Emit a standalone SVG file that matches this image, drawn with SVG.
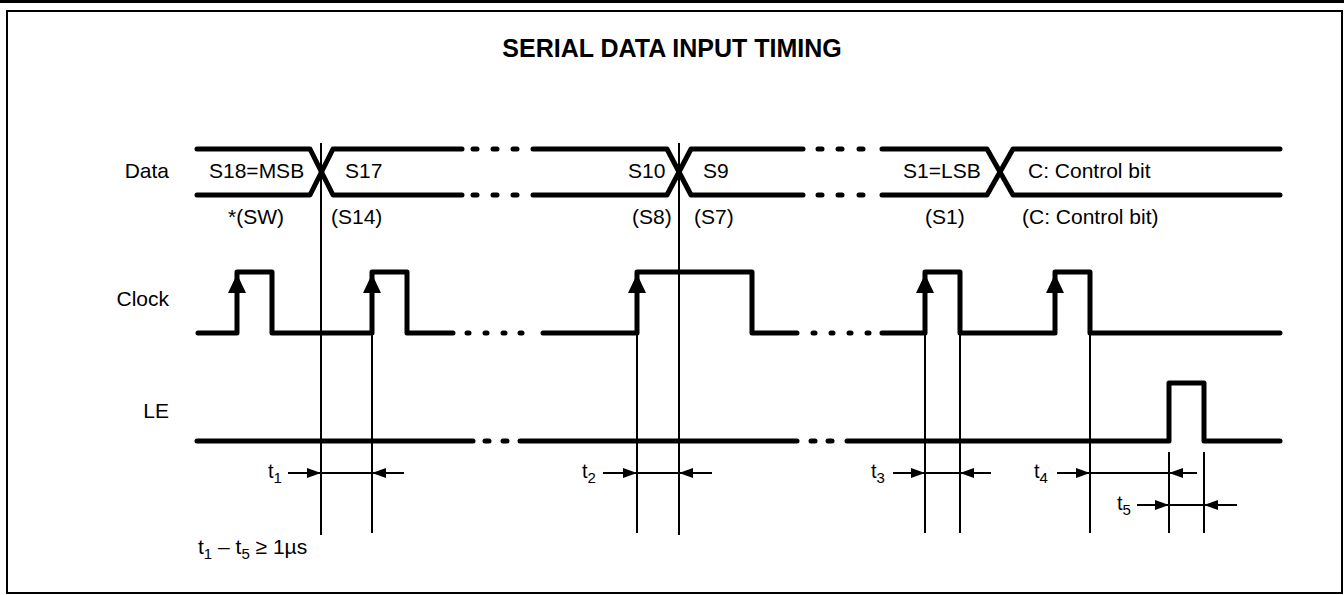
<svg xmlns="http://www.w3.org/2000/svg" width="1344" height="595" viewBox="0 0 1344 595">
<defs>
<style>
.sig{fill:none;stroke:#000;stroke-width:5;stroke-linecap:round;stroke-linejoin:round}
.dot{stroke:#000;stroke-width:5;stroke-linecap:round}
.thin{fill:none;stroke:#000;stroke-width:2}
.ah{fill:#000}
text{font-family:"Liberation Sans",Arial,sans-serif;fill:#000}
.lbl{font-size:21px}
.tl{font-size:20px}
.sub{font-size:15px}
.title{font-size:25px;font-weight:bold}
</style>
</defs>
<rect x="0" y="0" width="1344" height="595" fill="#fff"/>
<line x1="0" y1="1.5" x2="1344" y2="1.5" stroke="#000" stroke-width="3"/>
<rect x="7" y="11" width="1335" height="582" fill="none" stroke="#000" stroke-width="2"/>
<text class="title" x="672" y="57" text-anchor="middle">SERIAL DATA INPUT TIMING</text>

<g id="data">
<text class="lbl" x="169" y="178" text-anchor="end">Data</text>
<path class="sig" d="M197,149 H310 L333,195 H462"/>
<path class="sig" d="M197,195 H310 L333,149 H462"/>
<path class="sig" d="M533,149 H667 L691,195 H803"/>
<path class="sig" d="M533,195 H667 L691,149 H803"/>
<path class="sig" d="M882,149 H987 L1013,195 H1280"/>
<path class="sig" d="M882,195 H987 L1013,149 H1280"/>
<g class="dot">
<line x1="473" y1="149" x2="477" y2="149"/><line x1="493" y1="149" x2="497" y2="149"/><line x1="513" y1="149" x2="517" y2="149"/>
<line x1="473" y1="195" x2="477" y2="195"/><line x1="493" y1="195" x2="497" y2="195"/><line x1="513" y1="195" x2="517" y2="195"/>
<line x1="818" y1="149" x2="822" y2="149"/><line x1="838" y1="149" x2="842" y2="149"/><line x1="859" y1="149" x2="863" y2="149"/>
<line x1="818" y1="195" x2="822" y2="195"/><line x1="838" y1="195" x2="842" y2="195"/><line x1="859" y1="195" x2="863" y2="195"/>
</g>
<text class="lbl" x="209" y="178">S18=MSB</text>
<text class="lbl" x="345" y="178">S17</text>
<text class="lbl" x="628" y="178">S10</text>
<text class="lbl" x="703" y="178">S9</text>
<text class="lbl" x="903" y="178">S1=LSB</text>
<text class="lbl" x="1028" y="178">C: Control bit</text>
<text class="lbl" x="228" y="224">*(SW)</text>
<text class="lbl" x="331" y="224">(S14)</text>
<text class="lbl" x="632" y="224">(S8)</text>
<text class="lbl" x="694" y="224">(S7)</text>
<text class="lbl" x="925" y="224">(S1)</text>
<text class="lbl" x="1022" y="224">(C: Control bit)</text>
</g>

<g id="clock">
<text class="lbl" x="169" y="306" text-anchor="end">Clock</text>
<path class="sig" d="M198,333 H237 V272 H272 V333 H372 V272 H407 V333 H453"/>
<path class="sig" d="M543,333 H637 V272 H752 V333 H797"/>
<path class="sig" d="M882,333 H925 V272 H960 V333 H1055 V272 H1090 V333 H1280"/>
<g class="dot">
<line x1="467" y1="333" x2="469" y2="333"/><line x1="485" y1="333" x2="487" y2="333"/><line x1="503" y1="333" x2="505" y2="333"/><line x1="520" y1="333" x2="522" y2="333"/>
<line x1="813" y1="333" x2="815" y2="333"/><line x1="831" y1="333" x2="833" y2="333"/><line x1="849" y1="333" x2="851" y2="333"/><line x1="867" y1="333" x2="869" y2="333"/>
</g>
<g class="ah">
<polygon points="237,274 228,293 246,293"/>
<polygon points="372,274 363,293 381,293"/>
<polygon points="637,274 628,293 646,293"/>
<polygon points="925,274 916,293 934,293"/>
<polygon points="1055,274 1046,293 1064,293"/>
</g>
</g>

<g id="le">
<text class="lbl" x="169" y="418" text-anchor="end">LE</text>
<path class="sig" d="M197,441 H473"/>
<path class="sig" d="M520,441 H797"/>
<path class="sig" d="M847,441 H1169 V383 H1204 V441 H1280"/>
<g class="dot">
<line x1="485" y1="441" x2="489" y2="441"/><line x1="503" y1="441" x2="507" y2="441"/>
<line x1="811" y1="441" x2="815" y2="441"/><line x1="828" y1="441" x2="832" y2="441"/>
</g>
</g>

<g id="connectors">
<g class="thin">
<line x1="321" y1="143" x2="321" y2="535"/>
<line x1="372" y1="333" x2="372" y2="533"/>
<line x1="637" y1="333" x2="637" y2="533"/>
<line x1="679" y1="143" x2="679" y2="535"/>
<line x1="925" y1="333" x2="925" y2="533"/>
<line x1="960" y1="333" x2="960" y2="533"/>
<line x1="1090" y1="333" x2="1090" y2="533"/>
<line x1="1169" y1="452" x2="1169" y2="533"/>
<line x1="1204" y1="452" x2="1204" y2="533"/>
<line x1="288" y1="473" x2="404" y2="473"/>
<line x1="603" y1="473" x2="712" y2="473"/>
<line x1="893" y1="473" x2="991" y2="473"/>
<line x1="1057" y1="473" x2="1197" y2="473"/>
<line x1="1137" y1="505" x2="1237" y2="505"/>
</g>
<g class="ah">
<polygon points="321,473 307,468 307,478"/>
<polygon points="372,473 386,468 386,478"/>
<polygon points="637,473 623,468 623,478"/>
<polygon points="679,473 693,468 693,478"/>
<polygon points="925,473 911,468 911,478"/>
<polygon points="960,473 974,468 974,478"/>
<polygon points="1090,473 1076,468 1076,478"/>
<polygon points="1169,473 1183,468 1183,478"/>
<polygon points="1169,505 1155,500 1155,510"/>
<polygon points="1204,505 1218,500 1218,510"/>
</g>
<text class="tl" x="268" y="478">t<tspan class="sub" dy="5">1</tspan></text>
<text class="tl" x="582" y="478">t<tspan class="sub" dy="5">2</tspan></text>
<text class="tl" x="871" y="478">t<tspan class="sub" dy="5">3</tspan></text>
<text class="tl" x="1034" y="478">t<tspan class="sub" dy="5">4</tspan></text>
<text class="tl" x="1117" y="510">t<tspan class="sub" dy="5">5</tspan></text>
<text x="198" y="554" style="font-size:21px">t<tspan class="sub" dy="5">1</tspan><tspan dy="-5"> – t</tspan><tspan class="sub" dy="5">5</tspan><tspan dy="-5"> ≥ 1µs</tspan></text>
</g>
</svg>
